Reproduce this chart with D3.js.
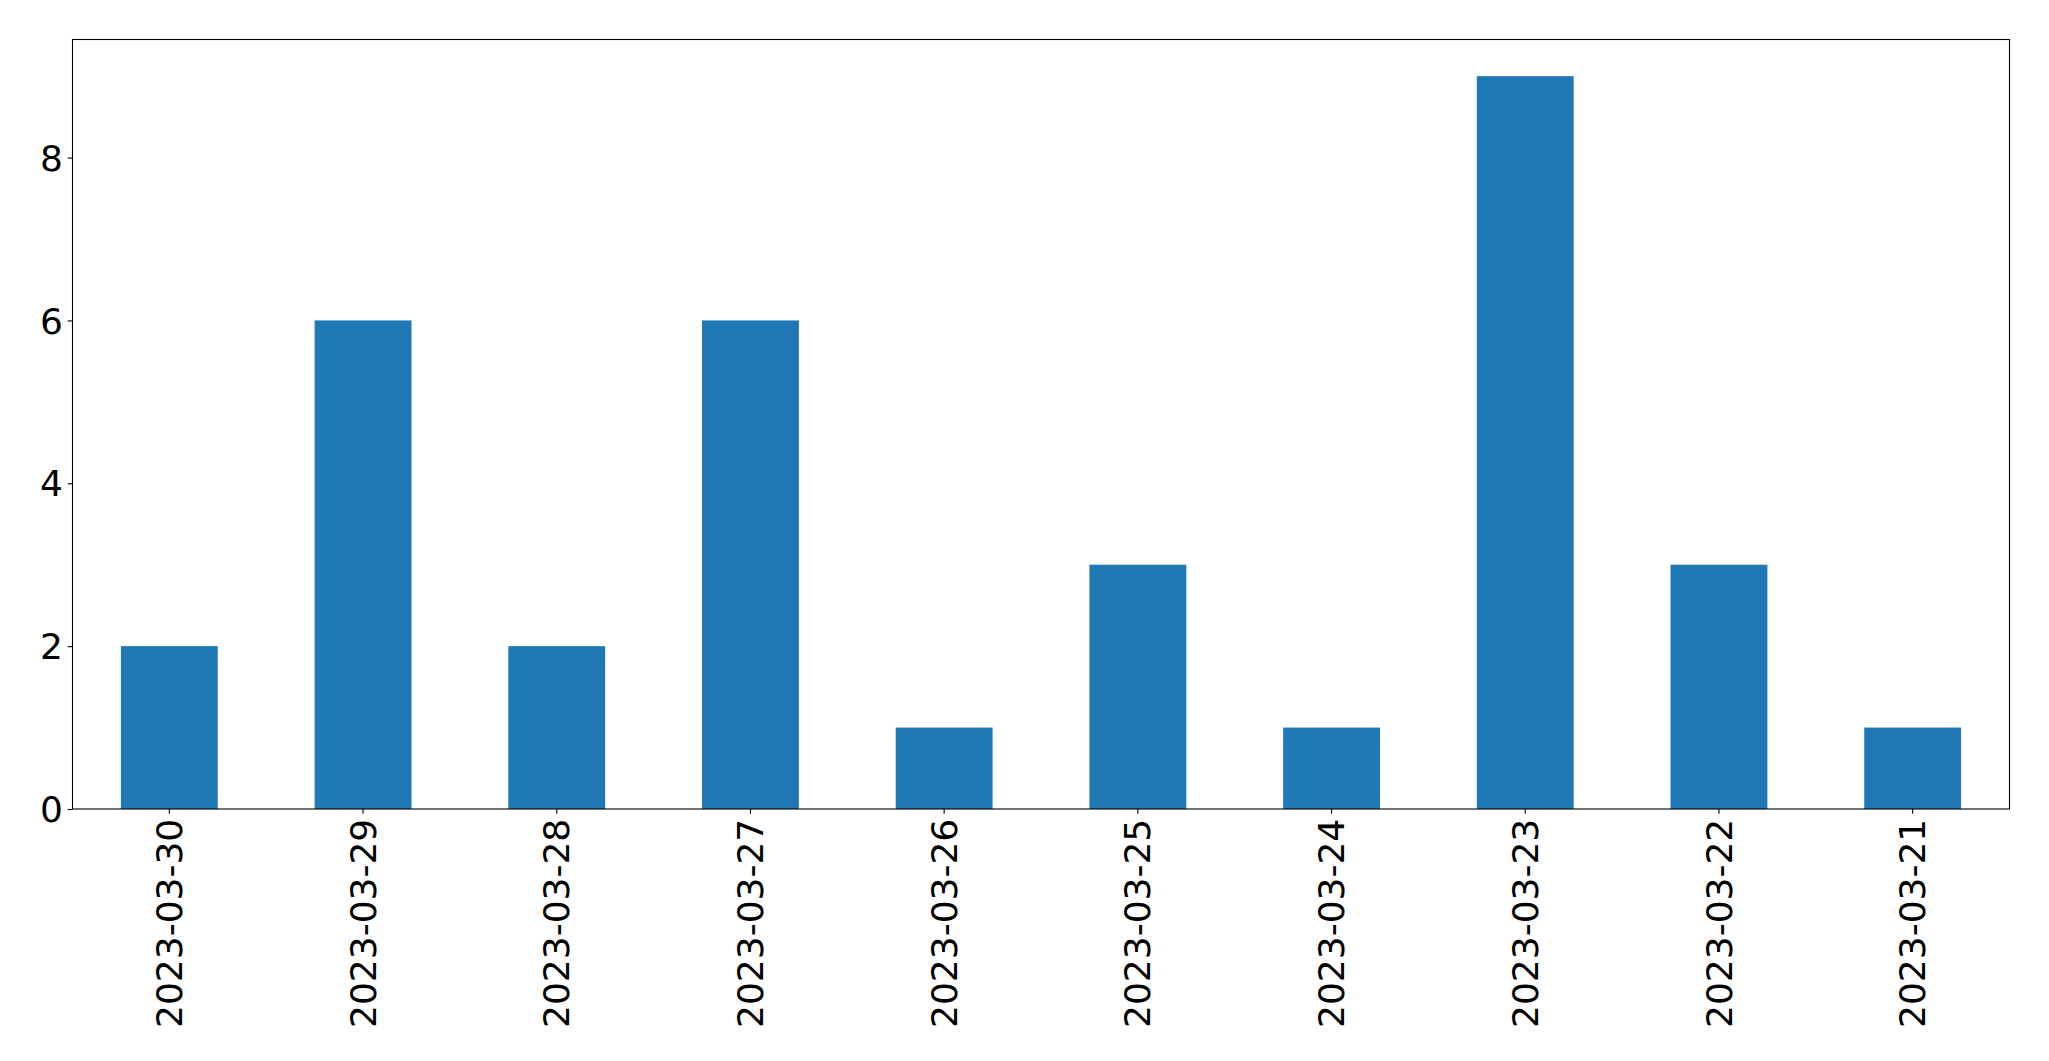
<!DOCTYPE html>
<html><head><meta charset="utf-8">
<script src="https://cdn.jsdelivr.net/npm/d3@7"></script>
<style>html,body{margin:0;padding:0;background:#fff;} svg{display:block;}</style>
</head><body>
<script>
const categories = ["2023-03-30","2023-03-29","2023-03-28","2023-03-27","2023-03-26","2023-03-25","2023-03-24","2023-03-23","2023-03-22","2023-03-21"];
const values = [2,6,2,6,1,3,1,9,3,1];
const yTicks = [0,2,4,6,8];

const W = 2049, H = 1061;
const mLeft = 72.5, mRight = 2009.5, mTop = 39.5, mBottom = 809;
const fontSize = 36;
const tickLen = 4.86, pad = 4.86;

const svg = d3.select("body").append("svg").attr("width", W).attr("height", H);

const x = d3.scaleBand().domain(categories).range([mLeft, mRight]).paddingInner(0.5).paddingOuter(0.25);
const y = d3.scaleLinear().domain([0, d3.max(values) * 1.05]).range([mBottom, mTop]);

svg.append("g").selectAll("rect").data(values).join("rect")
  .attr("x", (d, i) => x(categories[i]))
  .attr("width", x.bandwidth())
  .attr("y", d => y(d))
  .attr("height", d => y(0) - y(d))
  .attr("fill", "#1f77b4");

const yAxis = svg.append("g").attr("transform", `translate(${mLeft},0)`)
  .call(d3.axisLeft(y).tickValues(yTicks).tickFormat(d3.format("d")).tickSize(tickLen).tickPadding(pad));
const xAxis = svg.append("g").attr("transform", `translate(0,${mBottom})`)
  .call(d3.axisBottom(x).tickSize(tickLen).tickPadding(pad));

[yAxis, xAxis].forEach(g => {
  g.select(".domain").remove();
  g.selectAll(".tick line").attr("stroke", "#000").attr("stroke-width", 1.1);
  g.selectAll("text").attr("font-family", "DejaVu Sans").attr("font-size", fontSize).attr("fill", "#000");
});
yAxis.selectAll("text").attr("dy", "0.35em");
xAxis.selectAll("text")
  .attr("transform", `translate(0,${tickLen + pad}) rotate(-90)`)
  .attr("x", 0).attr("y", 0).attr("dy", "0.35em")
  .attr("text-anchor", "end");

svg.append("rect").attr("x", mLeft).attr("y", mTop).attr("width", mRight - mLeft).attr("height", mBottom - mTop)
  .attr("fill", "none").attr("stroke", "#000").attr("stroke-width", 1.1);
</script>
</body></html>
